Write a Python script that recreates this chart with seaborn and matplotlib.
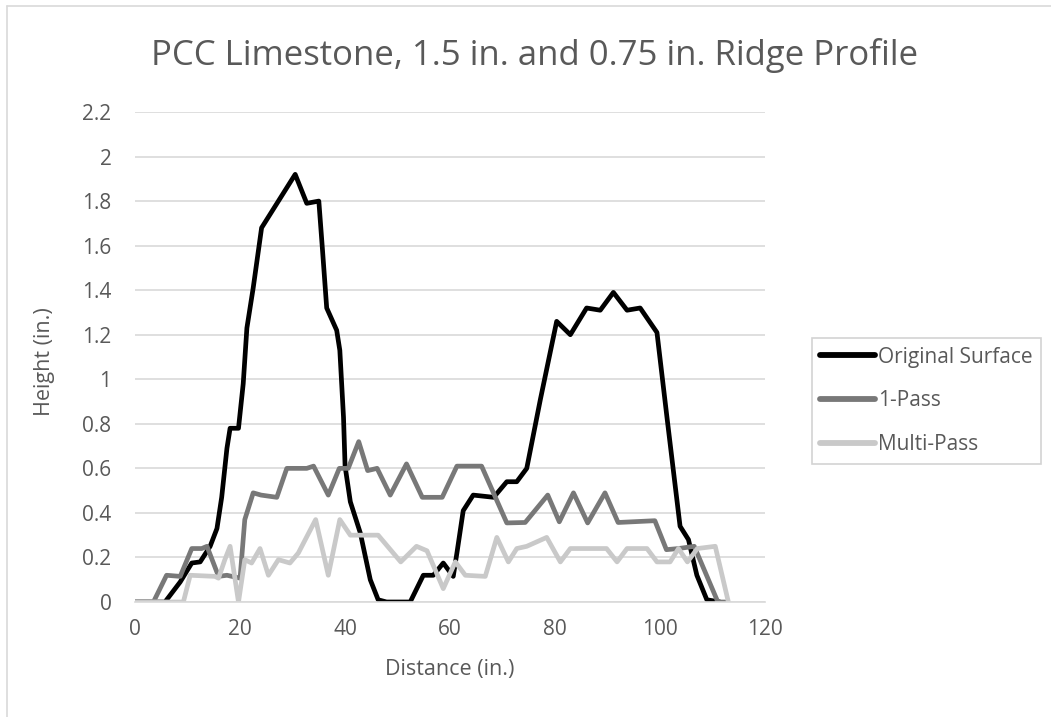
import matplotlib
matplotlib.use("Agg")
import matplotlib.pyplot as plt
from matplotlib.lines import Line2D
import seaborn as sns
import pandas as pd

# Original surface profile (distance in., height in.)
orig_x = [0, 5.7, 8.6, 10.8, 12.4, 14.3, 15.6, 16.5, 17.5, 18.1, 19.7, 20.6, 21.3, 22.5,
          24.1, 25.7, 30.5, 32.7, 35.0, 35.7, 36.5, 38.4, 39.0, 39.7, 40.0, 41.0, 42.9,
          44.8, 46.3, 47.9, 52.4, 54.9, 56.8, 58.7, 60.6, 61.3, 62.5, 64.4, 68.3, 70.8,
          72.7, 74.6, 77.2, 80.3, 82.9, 86.0, 88.6, 91.1, 93.7, 96.2, 99.4, 101.3, 103.8,
          105.4, 107.0, 108.9, 111.4]
orig_y = [0, 0, 0.09, 0.175, 0.18, 0.25, 0.33, 0.47, 0.69, 0.78, 0.78, 0.98, 1.23, 1.41,
          1.68, 1.74, 1.92, 1.79, 1.80, 1.58, 1.32, 1.22, 1.13, 0.83, 0.61, 0.45, 0.31,
          0.10, 0.01, 0, 0, 0.12, 0.12, 0.175, 0.115, 0.22, 0.41, 0.48, 0.47, 0.54,
          0.54, 0.60, 0.91, 1.26, 1.20, 1.32, 1.31, 1.39, 1.31, 1.32, 1.21, 0.83, 0.34,
          0.28, 0.12, 0.01, 0]

# 1-pass profile
one_x = [0, 3.5, 6.0, 8.6, 10.8, 12.7, 13.7, 15.9, 17.5, 20.0, 20.9, 22.5, 24.0, 27.0,
         28.9, 32.7, 34.0, 36.8, 38.9, 40.6, 42.6, 44.3, 46.1, 48.6, 51.7, 54.7, 58.5,
         61.3, 66.0, 70.8, 74.3, 78.6, 80.8, 83.5, 86.2, 89.5, 92.0, 99.0, 101.2, 103.5,
         106.5, 111.0, 112.4]
one_y = [0, 0, 0.12, 0.115, 0.24, 0.24, 0.25, 0.115, 0.12, 0.107, 0.37, 0.49, 0.48, 0.47,
         0.60, 0.60, 0.61, 0.48, 0.60, 0.60, 0.72, 0.59, 0.60, 0.48, 0.62, 0.47, 0.47,
         0.61, 0.61, 0.355, 0.357, 0.48, 0.36, 0.49, 0.355, 0.49, 0.357, 0.365, 0.235, 0.24,
         0.25, 0, 0]

# Multi-pass profile
multi_x = [0, 9.2, 10.5, 15.2, 15.9, 17.1, 18.1, 19.7, 20.9, 22.2, 23.8, 25.4, 27.3, 29.5,
           31.1, 34.4, 36.8, 39.0, 41.0, 46.3, 50.6, 53.6, 55.6, 58.7, 61.0, 62.9, 66.7,
           68.9, 71.1, 72.7, 74.6, 78.4, 81.0, 82.9, 89.8, 91.8, 93.7, 97.5, 99.4, 101.9,
           103.5, 105.2, 107.1, 110.5, 113.0]
multi_y = [0, 0, 0.12, 0.115, 0.107, 0.19, 0.25, 0.0, 0.19, 0.175, 0.24, 0.12, 0.19, 0.175,
           0.22, 0.37, 0.12, 0.37, 0.30, 0.30, 0.18, 0.25, 0.23, 0.06, 0.18, 0.12, 0.115,
           0.29, 0.18, 0.24, 0.25, 0.29, 0.18, 0.24, 0.24, 0.18, 0.24, 0.24, 0.18, 0.18,
           0.24, 0.18, 0.24, 0.25, 0]

series_names = ["Original Surface", "1-Pass", "Multi-Pass"]
series_colors = ["#000000", "#787878", "#c9c9c9"]
ytick_labels = ["0", "0.2", "0.4", "0.6", "0.8", "1", "1.2", "1.4", "1.6", "1.8", "2", "2.2"]

frames = []
for name, xs, ys in zip(series_names, [orig_x, one_x, multi_x], [orig_y, one_y, multi_y]):
    frames.append(pd.DataFrame({"Distance": xs, "Height": ys, "Series": name}))
df = pd.concat(frames, ignore_index=True)

sns.set_style("white")
plt.rcParams["font.family"] = ["Open Sans", "DejaVu Sans"]
txt = "#595959"

fig = plt.figure(figsize=(10.51, 7.17), dpi=100)
ax = fig.add_axes([0.1285, 0.1604, 0.5995, 0.6834])

sns.lineplot(data=df, x="Distance", y="Height", hue="Series", hue_order=series_names,
             palette=dict(zip(series_names, series_colors)), linewidth=3.4,
             estimator=None, sort=False, ax=ax)
for ln in ax.lines:
    ln.set_solid_joinstyle("round")
    ln.set_solid_capstyle("round")

ax.set_xlim(0, 120)
ax.set_ylim(0, 2.2)
ax.set_xticks(range(0, 121, 20))
ax.set_yticks([i * 0.2 for i in range(12)])
ax.set_yticklabels(ytick_labels)
ax.grid(axis="y", color="#d9d9d9", linewidth=1.2)
ax.set_axisbelow(True)
for s in ["top", "right", "left"]:
    ax.spines[s].set_visible(False)
ax.spines["bottom"].set_color("#d9d9d9")
ax.spines["bottom"].set_linewidth(1.2)
ax.tick_params(axis="both", length=0, labelsize=15, labelcolor=txt)
ax.tick_params(axis="y", pad=17)
ax.tick_params(axis="x", pad=12)

ax.set_xlabel("Distance (in.)", fontsize=15.5, color=txt)
ax.set_ylabel("Height (in.)", fontsize=15.5, color=txt)
ax.xaxis.set_label_coords(0.5, -0.117)
ax.yaxis.set_label_coords(-0.127, 0.49)

fig.text(0.509, 1 - 65 / 717, "PCC Limestone, 1.5 in. and 0.75 in. Ridge Profile",
         fontsize=25, color=txt, ha="center", va="baseline")

leg = ax.legend(loc="center left", bbox_to_anchor=(812 / 1051, 1 - 401 / 717),
                bbox_transform=fig.transFigure, frameon=True, fontsize=15,
                handlelength=2.6, handletextpad=0.15, labelspacing=1.1,
                borderpad=0.4, fancybox=False, borderaxespad=0)
leg.get_frame().set_edgecolor("#c8c8c8")
leg.get_frame().set_linewidth(1.2)
for t in leg.get_texts():
    t.set_color(txt)
for l in leg.get_lines():
    l.set_linewidth(4.2)

# chart area border (top and left edges visible)
fig.add_artist(Line2D([7 / 1051, 1.0], [1 - 6 / 717, 1 - 6 / 717], transform=fig.transFigure,
                      color="#d9d9d9", linewidth=1.2))
fig.add_artist(Line2D([7 / 1051, 7 / 1051], [0, 1 - 6 / 717], transform=fig.transFigure,
                      color="#d9d9d9", linewidth=1.2))

fig.savefig("out.png", dpi=100)
